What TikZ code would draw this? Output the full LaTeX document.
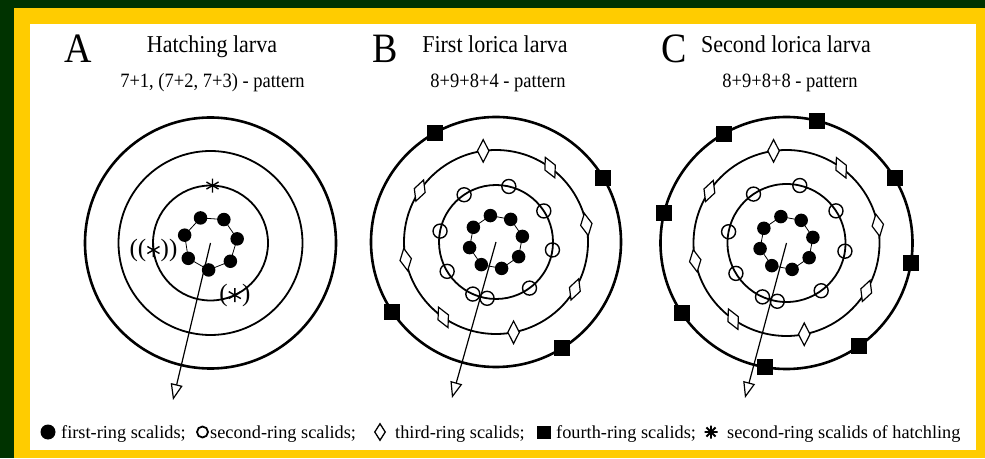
\documentclass[tikz,border=0pt]{standalone}
\usepackage{fontspec}
\setmainfont{Liberation Serif}
\usepackage{graphicx}
\usetikzlibrary{arrows.meta,shapes.geometric}
\definecolor{dkgreen}{HTML}{003300}
\definecolor{frameyellow}{HTML}{FFCC00}
\newcommand\vstretch[1]{\scalebox{1}[1.1]{#1}}
\begin{document}
\begin{tikzpicture}[x=1pt,y=1pt,
  outerring/.style={line width=2.6pt},
  ring/.style={line width=1.8pt},
  linkline/.style={line width=0.8pt},
  arr/.style={line width=1.2pt,-{Triangle[open,length=16pt,width=12pt]}},
  dotsc/.style={circle,fill=black,minimum size=13.5pt,inner sep=0pt},
  osc/.style={circle,draw=black,line width=1.4pt,minimum size=14pt,inner sep=0pt},
  dsc/.style={diamond,draw=black,fill=white,line width=1.2pt,minimum width=12pt,minimum height=23pt,inner sep=0pt},
  sqsc/.style={rectangle,fill=black,minimum size=16pt,inner sep=0pt},
  bigletter/.style={anchor=base,inner sep=0pt,font=\fontsize{38}{38}\selectfont},
  titletext/.style={anchor=base,inner sep=0pt,font=\fontsize{22}{22}\selectfont},
  pattext/.style={anchor=base,inner sep=0pt,font=\fontsize{18.5}{18.5}\selectfont},
  legtext/.style={anchor=base west,inner sep=0pt,font=\fontsize{18.3}{18.3}\selectfont},
  parentext/.style={inner sep=0pt,font=\fontsize{25}{25}\selectfont},
  astksix/.pic={\draw[line width=1.4pt] (90:7)--(270:7) (30:7)--(210:7) (150:7)--(330:7);},
  astkheavy/.pic={\draw[line width=1.9pt] (0:6.5)--(180:6.5) (45:6.5)--(225:6.5) (90:6.5)--(270:6.5) (135:6.5)--(315:6.5);}
]
% frame
\fill[dkgreen] (0,0) rectangle (985,458);
\fill[frameyellow] (14,0) rectangle (985,450);
\fill[white] (30,8) rectangle (976,434);
\useasboundingbox (0,0) rectangle (985,458);

% headings
\node[bigletter] (letA) at (78,395) {\vstretch{A}};
\node[bigletter] (letB) at (385,395) {\vstretch{B}};
\node[bigletter] (letC) at (674,395) {\vstretch{C}};
\node[titletext] (titA) at (212,405) {\vstretch{Hatching larva}};
\node[titletext] (titB) at (495,405) {\vstretch{First lorica larva}};
\node[titletext] (titC) at (786,405) {\vstretch{Second lorica larva}};
\node[pattext] (patA) at (212.5,370) {\vstretch{7+1, (7+2, 7+3) - pattern}};
\node[pattext] (patB) at (498,370) {\vstretch{8+9+8+4 - pattern}};
\node[pattext] (patC) at (790,370) {\vstretch{8+9+8+8 - pattern}};

% ---------- Panel A ----------
\begin{scope}[shift={(210.5,215)}]
  \coordinate (Ac) at (0,0);
  \coordinate (At) at (-37.5,-157);
  \draw[outerring] (0,0) circle (125.5);
  \draw[ring] (0,0) circle (92);
  \draw[ring] (0,0) circle (57.5);
  \draw[linkline] (266:27) \foreach \k in {1,...,6}{ -- ({266-51.4286*\k}:27)} -- cycle;
  \draw[arr] (Ac) -- (At);
  \foreach \k in {0,...,6}
    \node[dotsc] (A1-\k) at ({266-51.4286*\k}:27) {};
  % hatchling second-ring scalids
  \pic at (88:57.5) {astksix};
  \pic at (187:57.5) {astksix};
  \node[parentext,anchor=east] (Apl) at (-64,-7) {((};
  \node[parentext,anchor=west] (Apr) at (-50,-7) {))};
  \pic at (-65:57.5) {astksix};
  \node[parentext,anchor=east] (Aql) at (17.3,-52.1) {(};
  \node[parentext,anchor=west] (Aqr) at (31.3,-52.1) {)};
\end{scope}

% ---------- Panel B ----------
\begin{scope}[shift={(496,216)}]
  \coordinate (Bc) at (0,0);
  \coordinate (Bt) at (-44,-156);
  \draw[outerring] (0,0) circle (125);
  \draw[ring] (0,0) circle (92);
  \draw[ring] (0,0) circle (57);
  \draw[linkline] (12:27) \foreach \k in {1,...,7}{ -- ({12+45*\k}:27)} -- cycle;
  \draw[arr] (Bc) -- (Bt);
  \foreach \k in {0,...,7}
    \node[dotsc] (B1-\k) at ({12+45*\k}:27) {};
  \foreach \a [count=\i] in {33,77,124,169,211,246,261,306,352}
    \node[osc] (B2-\i) at (\a:57) {};
  \foreach \a/\r [count=\i] in {98/0,54/25,11/10,329/-20,281/0,235/25,191/10,146/-20}
    \node[dsc,rotate=\r] (B3-\i) at (\a:92) {};
  \foreach \a [count=\i] in {31,119,214,302}
    \node[sqsc] (B4-\i) at (\a:125) {};
\end{scope}

% ---------- Panel C ----------
\begin{scope}[shift={(786.5,215)}]
  \coordinate (Cc) at (0,0);
  \coordinate (Ct) at (-41.5,-155);
  \draw[outerring] (0,0) circle (126);
  \draw[ring] (0,0) circle (93);
  \draw[ring] (0,0) circle (59);
  \draw[linkline] (12:27) \foreach \k in {1,...,7}{ -- ({12+45*\k}:27)} -- cycle;
  \draw[arr] (Cc) -- (Ct);
  \foreach \k in {0,...,7}
    \node[dotsc] (C1-\k) at ({12+45*\k}:27) {};
  \foreach \a [count=\i] in {33,77,124,169,211,246,261,306,352}
    \node[osc] (C2-\i) at (\a:59) {};
  \foreach \a/\r [count=\i] in {98/0,54/25,11/10,329/-20,281/0,235/25,191/10,146/-20}
    \node[dsc,rotate=\r] (C3-\i) at (\a:93) {};
  \foreach \a [count=\i] in {31,76,120,166,214,260,305,351}
    \node[sqsc] (C4-\i) at (\a:126) {};
\end{scope}

% ---------- Legend ----------
\node[circle,fill=black,minimum size=15pt,inner sep=0pt] (L1s) at (48,26) {};
\node[legtext] (L1t) at (61,20) {first-ring scalids;};
\node[circle,draw=black,line width=1.8pt,minimum size=11pt,inner sep=0pt] (L2s) at (202.5,26) {};
\node[legtext] (L2t) at (210,20) {second-ring scalids;};
\node[diamond,draw=black,line width=1.3pt,minimum width=11pt,minimum height=17pt,inner sep=0pt] (L3s) at (380,26) {};
\node[legtext] (L3t) at (395,20) {third-ring scalids;};
\node[rectangle,fill=black,minimum width=14pt,minimum height=13pt,inner sep=0pt] (L4s) at (544,26) {};
\node[legtext] (L4t) at (556,20) {fourth-ring scalids;};
\pic at (711,26) {astkheavy};
\node[legtext] (L5t) at (727,20) {second-ring scalids of hatchling};
\end{tikzpicture}
\end{document}
